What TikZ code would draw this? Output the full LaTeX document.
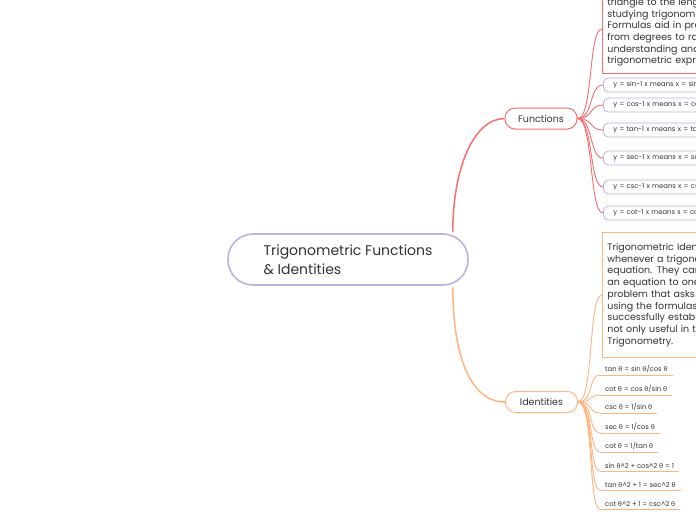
\documentclass[tikz,border=0pt]{standalone}
\usepackage{fontspec}
\setmainfont{Poppins}
\newfontfamily\greekfont{Lato}
\usepackage{xcolor}
\usepackage{tikz}

\definecolor{inkgray}{HTML}{333333}
\definecolor{funred}{HTML}{F46F6F}
\definecolor{idorange}{HTML}{FFB482}
\definecolor{rootlav}{HTML}{B9B5E0}
\newcommand{\tht}{{\greekfont θ}}

\begin{document}
\begin{tikzpicture}[x=1pt, y=-1pt,
  central/.style={draw=rootlav, line width=1.6pt, fill=white, rounded corners=25pt,
    minimum width=240pt, minimum height=51pt, align=left, text=inkgray,
    font=\fontsize{14}{19}\selectfont},
  topic/.style={draw=#1, line width=1pt, fill=white, rounded corners=10pt,
    minimum width=72pt, minimum height=21pt, text=inkgray,
    font=\fontsize{9.5}{11}\selectfont},
  note/.style={draw=#1, line width=0.9pt, fill=white, anchor=west, align=left,
    text width=170pt, inner xsep=5pt, text=inkgray,
    font=\fontsize{9.5}{11.7}\selectfont},
  leaf/.style={draw=rootlav, line width=0.8pt, fill=white, rounded corners=5pt,
    anchor=west, align=left, text width=130pt, inner xsep=10pt, inner ysep=0pt,
    minimum height=14pt, text=inkgray, font=\fontsize{6.8}{8}\selectfont},
  formula/.style={anchor=south west, inner xsep=5pt, inner ysep=2.5pt, text=inkgray,
    font=\fontsize{6.8}{8}\selectfont},
  trunk/.style={line width=1.5pt, draw=#1},
  twig/.style={line width=0.9pt, draw=#1},
  rule/.style={line width=0.9pt, draw=idorange}
]
\useasboundingbox (0,0) rectangle (696,520);
\fill[white] (0,0) rectangle (696,520);
\clip (0,0) rectangle (696,520);

\node[central] (root) at (348,259.5) {Trigonometric Functions\\\& Identities};
\node[topic=funred] (fun) at (541,118.5) {Functions};
\node[topic=idorange] (ids) at (541.5,402) {Identities};

% functions side
\node[note=funred, inner ysep=7pt] (fnote) at (602,29) {\mbox{}\\[2pt]
  triangle to the length\\
  studying trigonometry\\
  Formulas aid in problems\\
  from degrees to radians\\
  understanding and\\
  trigonometric expressions};
\node[leaf] (f1) at (603,85) {y = sin-1 x means x = sin y};
\node[leaf] (f2) at (603,105) {y = cos-1 x means x = cos y};
\node[leaf] (f3) at (603,130) {y = tan-1 x means x = tan y};
\node[leaf] (f4) at (603,158) {y = sec-1 x means x = sec y};
\node[leaf] (f5) at (603,187) {y = csc-1 x means x = csc y};
\node[leaf] (f6) at (603,213) {y = cot-1 x means x = cot y};

% identities side
\node[note=idorange, inner ysep=10.5pt] (inote) at (602,295) {Trigonometric Identities\\
  whenever a trigonometric\\
  equation. They can\\
  an equation to one\\
  problem that asks you\\
  using the formulas\\
  successfully establish\\
  not only useful in the\\
  Trigonometry.};
\node[formula] (i1) at (600,375) {tan \tht{} = sin \tht/cos \tht};
\node[formula] (i2) at (600,395) {cot \tht{} = cos \tht/sin \tht};
\node[formula] (i3) at (600,413) {csc \tht{} = 1/sin \tht};
\node[formula] (i4) at (600,433) {sec \tht{} = 1/cos \tht};
\node[formula] (i5) at (600,452) {cot \tht{} = 1/tan \tht};
\node[formula] (i6) at (600,471) {sin \tht\^{}2 + cos\^{}2 \tht{} = 1};
\node[formula] (i7) at (600,490) {tan \tht\^{}2 + 1 = sec\^{}2 \tht};
\node[formula] (i8) at (600,509) {cot \tht\^{}2 + 1 = csc\^{}2 \tht};

\draw[rule] (i1.south west) -- (i1.south east);
\draw[rule] (i2.south west) -- (i2.south east);
\draw[rule] (i3.south west) -- (i3.south east);
\draw[rule] (i4.south west) -- (i4.south east);
\draw[rule] (i5.south west) -- (i5.south east);
\draw[rule] (i6.south west) -- (i6.south east);
\draw[rule] (i7.south west) -- (i7.south east);
\draw[rule] (i8.south west) -- (i8.south east);

% main branches
\draw[trunk=funred] ([xshift=-16pt,yshift=1.5pt]root.north east)
  .. controls +(0,-65) and +(-30,0) .. (fun.west);
\draw[trunk=idorange] ([xshift=-16pt,yshift=-1.5pt]root.south east)
  .. controls +(0,65) and +(-36,0) .. (ids.west);

% sub branches
\draw[twig=funred] (fun.east) .. controls +(16,0) and +(-14,0) .. (fnote.west);
\draw[twig=funred] (fun.east) .. controls +(16,0) and +(-14,0) .. (f1.west);
\draw[twig=funred] (fun.east) .. controls +(16,0) and +(-14,0) .. (f2.west);
\draw[twig=funred] (fun.east) .. controls +(16,0) and +(-14,0) .. (f3.west);
\draw[twig=funred] (fun.east) .. controls +(16,0) and +(-14,0) .. (f4.west);
\draw[twig=funred] (fun.east) .. controls +(16,0) and +(-14,0) .. (f5.west);
\draw[twig=funred] (fun.east) .. controls +(16,0) and +(-14,0) .. (f6.west);

\draw[twig=idorange] (ids.east) .. controls +(16,0) and +(-14,0) .. (inote.west);
\draw[twig=idorange] (ids.east) .. controls +(16,0) and +(-12,0) .. (i1.south west);
\draw[twig=idorange] (ids.east) .. controls +(16,0) and +(-12,0) .. (i2.south west);
\draw[twig=idorange] (ids.east) .. controls +(16,0) and +(-12,0) .. (i3.south west);
\draw[twig=idorange] (ids.east) .. controls +(16,0) and +(-12,0) .. (i4.south west);
\draw[twig=idorange] (ids.east) .. controls +(16,0) and +(-12,0) .. (i5.south west);
\draw[twig=idorange] (ids.east) .. controls +(16,0) and +(-12,0) .. (i6.south west);
\draw[twig=idorange] (ids.east) .. controls +(16,0) and +(-12,0) .. (i7.south west);
\draw[twig=idorange] (ids.east) .. controls +(16,0) and +(-12,0) .. (i8.south west);
\end{tikzpicture}
\end{document}
